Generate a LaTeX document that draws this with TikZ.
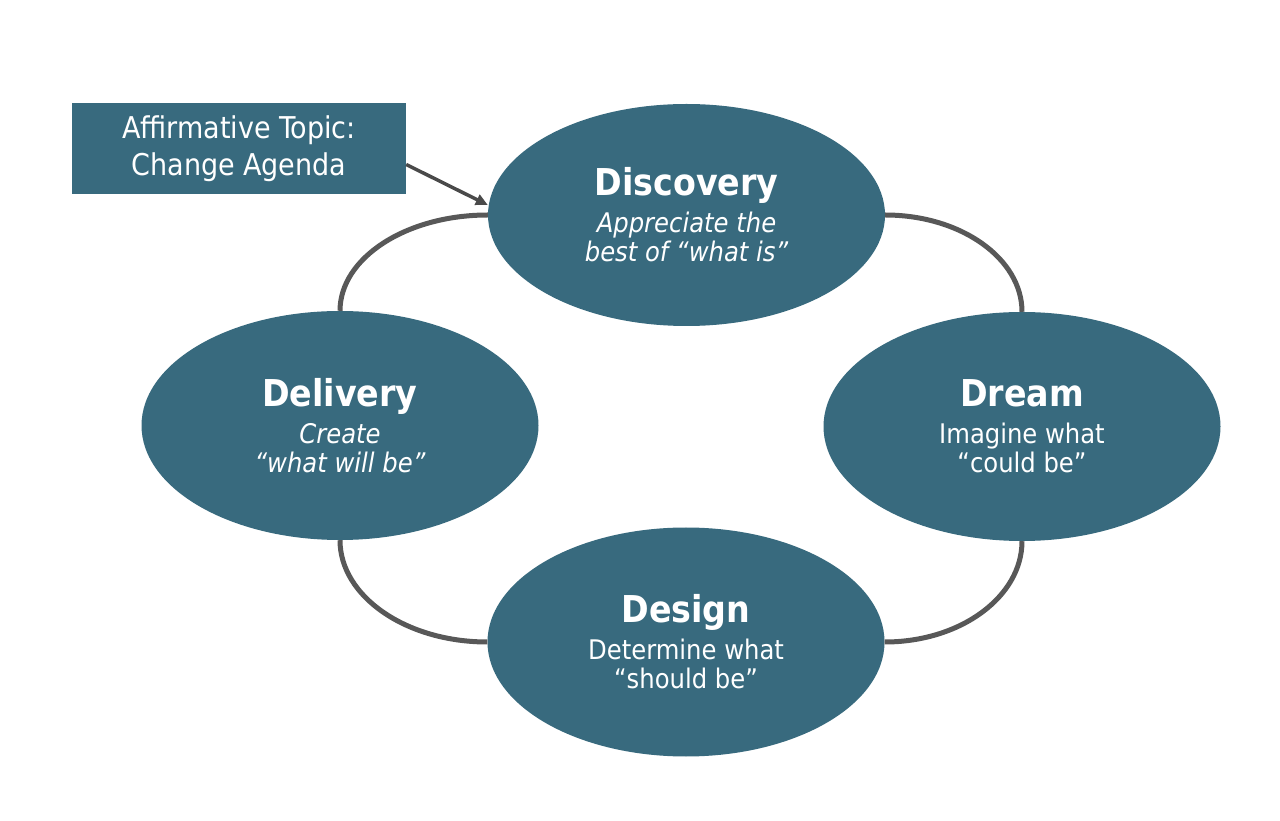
\documentclass[tikz,border=0pt]{standalone}
\usepackage{fontspec}
\setmainfont{DejaVu Sans Condensed}
\usetikzlibrary{shapes.geometric,arrows.meta,calc}
\definecolor{aiteal}{HTML}{386A7E}
\definecolor{ringgray}{HTML}{585858}
\definecolor{arrowgray}{HTML}{4A4A4A}
\newcommand\phasetitle[1]{{\fontsize{37}{40}\selectfont\bfseries #1}}
\begin{document}
\begin{tikzpicture}[x=1pt,y=1pt,
  phase/.style={ellipse, fill=aiteal, text=white, inner sep=0pt,
    minimum width=397pt, minimum height=229pt, align=center,
    font=\fontsize{27}{29}\selectfont},
  topicbox/.style={rectangle, fill=aiteal, text=white, inner sep=0pt,
    minimum width=334pt, minimum height=91pt, align=center,
    font=\fontsize{30}{37}\selectfont},
  ring/.style={draw=ringgray, line width=5pt},
  pointer/.style={draw=arrowgray, line width=3.5pt, -{Triangle[length=12pt,width=11pt]}}
]
\useasboundingbox (0,0) rectangle (1280,820);

\node[phase, minimum height=222pt] (disc) at (686.5,605)
  {\phasetitle{Discovery}\\[8pt]\itshape Appreciate the\\\itshape best of “what is”};
\node[phase] (dream) at (1022,393.5)
  {\phasetitle{Dream}\\[8pt]Imagine what\\“could be”};
\node[phase] (deliv) at (340,394.5)
  {\phasetitle{Delivery}\\[8pt]\itshape Create\\\itshape “what will be”};
\node[phase] (design) at (686,178)
  {\phasetitle{Design}\\[8pt]Determine what\\“should be”};

\node[topicbox] (topic) at (239,671.5) {Affirmative Topic:\\Change Agenda};

\coordinate (ctr) at (disc.east -| dream.north);
\draw[ring] (disc.east) .. controls ($(disc.east)!0.552!(ctr)$) and ($(dream.north)!0.552!(ctr)$) .. (dream.north);
\coordinate (ctl) at (disc.west -| deliv.north);
\draw[ring] (disc.west) .. controls ($(disc.west)!0.552!(ctl)$) and ($(deliv.north)!0.552!(ctl)$) .. (deliv.north);
\coordinate (cbl) at (design.west -| deliv.south);
\draw[ring] (deliv.south) .. controls ($(deliv.south)!0.552!(cbl)$) and ($(design.west)!0.552!(cbl)$) .. (design.west);
\coordinate (cbr) at (design.east -| dream.south);
\draw[ring] (dream.south) .. controls ($(dream.south)!0.552!(cbr)$) and ($(design.east)!0.552!(cbr)$) .. (design.east);

\coordinate (pstart) at ($(topic.east)+(0,-16)$);
\coordinate (pend) at ($(disc.west)+(0,10)$);
\draw[pointer] (pstart) -- (pend);
\end{tikzpicture}
\end{document}
